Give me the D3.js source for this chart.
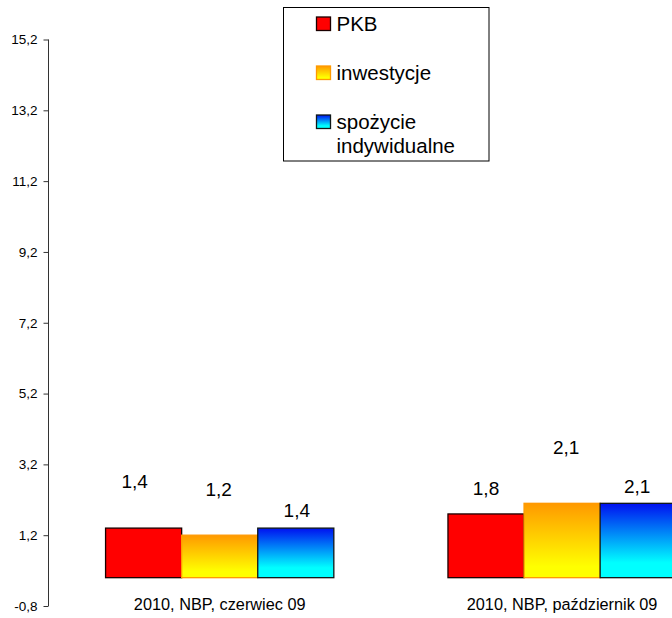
<!DOCTYPE html>
<html>
<head>
<meta charset="utf-8">
<script src="https://cdn.jsdelivr.net/npm/d3@7"></script>
<style>
  body { margin: 0; background: #fff; }
  svg { display: block; font-family: "Liberation Sans", Arial, sans-serif; }
</style>
</head>
<body>
<div id="chart"></div>
<script>
const categories = ["2010, NBP, czerwiec 09", "2010, NBP, październik 09"];
const series = ["PKB", "inwestycje", "spożycie indywidualne"];
const values = [
    [1.4, 1.2, 1.4],   // czerwiec 09
    [1.8, 2.1, 2.1]    // październik 09
];
const yTicks = [-0.8, 1.2, 3.2, 5.2, 7.2, 9.2, 11.2, 13.2, 15.2];

// labels were dragged around by hand in the original, so each one gets a lift / nudge (px)
const labelLift = [[47, 46, 18], [26, 56, 17]];
const labelNudge = [[-9, -1, 1], [0, 4, -1]];

const width = 672, height = 618;
const fmt = d => String(d).replace(".", ",");

const svg = d3.select("#chart").append("svg")
    .attr("width", width)
    .attr("height", height);

const defs = svg.append("defs");
function vGrad(id, top, bottom, stop) {
    const g = defs.append("linearGradient").attr("id", id)
        .attr("x1", 0).attr("y1", 0).attr("x2", 0).attr("y2", 1);
    g.append("stop").attr("offset", 0).attr("stop-color", top);
    g.append("stop").attr("offset", stop).attr("stop-color", bottom);
    g.append("stop").attr("offset", 1).attr("stop-color", bottom);
}
vGrad("gInw", "#ff9900", "#ffff00", 0.85);
vGrad("gSpo", "#0010f0", "#00ffff", 0.8);

const fills = ["#ff0000", "url(#gInw)", "url(#gSpo)"];
const strokes = ["#1a0000", "#ff9900", "#101818"];
const legendFills = ["#ff0000", "url(#gInw)", "url(#gSpo)"];

const y = d3.scaleLinear().domain([-0.8, 15.2]).range([606, 39.5]);
const x0 = d3.scaleBand().domain(categories).range([48.5, 733.3]);
const bw = x0.bandwidth();
const x1 = d3.scaleBand().domain(series).range([bw / 6, bw * 5 / 6]);

// y axis
const yAxis = svg.append("g")
    .attr("transform", "translate(48.5,0)")
    .call(d3.axisLeft(y).tickValues(yTicks).tickFormat(fmt).tickSize(5).tickPadding(6));
yAxis.select(".domain").attr("stroke", "#333").attr("d", `M0,${y(-0.8)}V${y(15.2)}`);
yAxis.selectAll(".tick line").attr("stroke", "#333");
yAxis.selectAll(".tick text")
    .attr("font-size", 13.5)
    .attr("font-family", "Liberation Sans, Arial, sans-serif")
    .attr("fill", "#000");

// bars
const groups = svg.selectAll(".grp").data(values)
    .join("g")
    .attr("class", "grp")
    .attr("transform", (d, i) => `translate(${x0(categories[i])},0)`);

groups.selectAll("rect")
    .data((d, gi) => d.map((v, si) => ({ v, si, gi })))
    .join("rect")
    .attr("x", d => x1(series[d.si]))
    .attr("y", d => y(d.v))
    .attr("width", x1.bandwidth())
    .attr("height", d => y(0) - y(d.v))
    .attr("fill", d => fills[d.si])
    .attr("stroke", d => strokes[d.si])
    .attr("stroke-width", 1.3);

groups.selectAll("text.val")
    .data((d, gi) => d.map((v, si) => ({ v, si, gi })))
    .join("text")
    .attr("class", "val")
    .attr("x", d => x1(series[d.si]) + x1.bandwidth() / 2 + labelNudge[d.gi][d.si])
    .attr("y", d => y(d.v) - labelLift[d.gi][d.si])
    .attr("dy", "0.35em")
    .attr("text-anchor", "middle")
    .attr("font-size", 19)
    .text(d => fmt(d.v));

// category labels
svg.selectAll(".cat").data(categories)
    .join("text")
    .attr("class", "cat")
    .attr("x", d => x0(d) + bw / 2)
    .attr("y", 610)
    .attr("text-anchor", "middle")
    .attr("font-size", 16.3)
    .text(d => d);

// legend
const legend = svg.append("g").attr("transform", "translate(283.5,7.5)");
legend.append("rect")
    .attr("width", 205.5).attr("height", 153.5)
    .attr("fill", "#fff").attr("stroke", "#000").attr("stroke-width", 1);

const legendRows = [[series[0]], [series[1]], ["spożycie", "indywidualne"]];
const ly = d3.scalePoint().domain(series).range([23, 121]);

const items = legend.selectAll(".item").data(series)
    .join("g")
    .attr("class", "item")
    .attr("transform", d => `translate(0,${ly(d)})`);

items.append("rect")
    .attr("x", 33).attr("y", -13.5)
    .attr("width", 14).attr("height", 13.5)
    .attr("fill", (d, i) => legendFills[i])
    .attr("stroke", (d, i) => strokes[i])
    .attr("stroke-width", 1.3);

items.append("text")
    .attr("x", 53)
    .attr("font-size", 20.5)
    .selectAll("tspan")
    .data((d, i) => legendRows[i])
    .join("tspan")
    .attr("x", 53)
    .attr("dy", (d, j) => j === 0 ? 0 : 24.7)
    .text(d => d);
</script>
</body>
</html>
